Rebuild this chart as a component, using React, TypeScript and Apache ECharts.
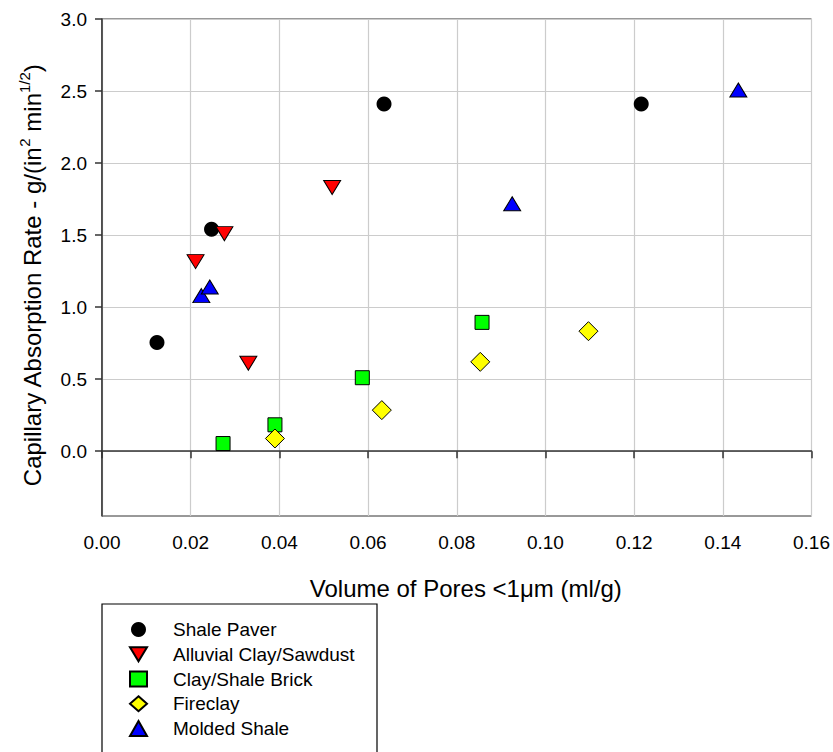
import React, { useEffect, useRef } from "react";
import * as echarts from "echarts";

const seriesNames = [
  "Shale Paver",
  "Alluvial Clay/Sawdust",
  "Clay/Shale Brick",
  "Fireclay",
  "Molded Shale",
];

const shalePaver = [
  [0.0124, 0.755],
  [0.0247, 1.54],
  [0.0636, 2.41],
  [0.1216, 2.41],
];
const alluvialClay = [
  [0.0211, 1.316],
  [0.0276, 1.51],
  [0.0519, 1.83],
  [0.033, 0.61],
];
const clayShaleBrick = [
  [0.0273, 0.053],
  [0.039, 0.183],
  [0.0587, 0.51],
  [0.0857, 0.894],
];
const fireclay = [
  [0.039, 0.088],
  [0.0631, 0.285],
  [0.0853, 0.62],
  [0.1097, 0.833],
];
const moldedShale = [
  [0.0224, 1.08],
  [0.0243, 1.14],
  [0.0925, 1.717],
  [0.1435, 2.507],
];

const yTickValues = [0, 0.5, 1.0, 1.5, 2.0, 2.5, 3.0];

const FONT = "Liberation Sans, Arial, Helvetica, sans-serif";
const DOWN_TRI = "path://M0,0L17,0L8.5,14Z";

export default function App() {
  const ref = useRef<HTMLDivElement>(null);
  useEffect(() => {
    if (!ref.current) return;
    const chart = echarts.init(ref.current, null, { renderer: "svg" });
    const mk = (
      name: string,
      data: number[][],
      symbol: string,
      size: number | number[],
      color: string,
      border: number
    ) => ({
      name,
      type: "scatter",
      data,
      symbol,
      symbolSize: size,
      itemStyle: { color, borderColor: "#000", borderWidth: border, opacity: 1 },
      emphasis: { disabled: true },
    });
    chart.setOption({
      animation: false,
      textStyle: { fontFamily: FONT },
      grid: {
        left: 102,
        right: 21,
        top: 19,
        bottom: 236,
        show: true,
        borderColor: "#333",
        borderWidth: 1,
        backgroundColor: "transparent",
      },
      graphic: [
        {
          type: "rect",
          shape: { x: 102, y: 604, width: 275, height: 200 },
          style: { fill: "none", stroke: "#000", lineWidth: 1.2 },
          silent: true,
        },
      ],
      legend: {
        orient: "vertical",
        left: 129,
        top: 620,
        padding: 0,
        itemGap: 5.75,
        itemWidth: 17,
        itemHeight: 15,
        data: seriesNames,
        textStyle: {
          fontFamily: FONT,
          fontSize: 19,
          color: "#000",
          lineHeight: 17,
          padding: [0, 0, 0, 21],
        },
      },
      xAxis: {
        type: "value",
        min: 0,
        max: 0.16,
        interval: 0.02,
        name: "Volume of Pores <1\u03bcm (ml/g)",
        nameLocation: "middle",
        nameGap: 60,
        nameTextStyle: {
          fontFamily: FONT,
          fontSize: 24,
          color: "#000",
          padding: [0, 0, 0, 18],
        },
        axisLine: { show: true, lineStyle: { color: "#333", width: 1.5 } },
        axisTick: { show: true, length: 7, lineStyle: { color: "#333", width: 1.5 } },
        axisLabel: {
          color: "#000",
          fontSize: 19,
          fontFamily: FONT,
          margin: 17,
          formatter: (v: number) => v.toFixed(2),
        },
        splitLine: { show: true, lineStyle: { color: "#cccccc", width: 1.2 } },
      },
      yAxis: {
        type: "value",
        min: -0.45,
        max: 3.0,
        name: "Capillary Absorption Rate - g/(in{sup|2} min{sup|1/2})",
        nameLocation: "middle",
        nameGap: 55,
        nameTextStyle: {
          fontFamily: FONT,
          fontSize: 24,
          color: "#000",
          lineHeight: 30,
          padding: [0, 16, 0, 0],
          rich: {
            sup: { fontFamily: FONT, fontSize: 15, color: "#000", lineHeight: 15, verticalAlign: "top" },
          },
        },
        axisLine: { show: true, lineStyle: { color: "#333", width: 1.5 } },
        axisTick: {
          show: true,
          length: 7,
          customValues: yTickValues,
          lineStyle: { color: "#333", width: 1.5 },
        },
        axisLabel: {
          color: "#000",
          fontSize: 19,
          fontFamily: FONT,
          margin: 15,
          customValues: yTickValues,
          formatter: (v: number) => v.toFixed(1),
        },
        splitLine: { show: true, lineStyle: { color: "#cccccc", width: 1.2 } },
      },
      series: [
        mk(seriesNames[0], shalePaver, "circle", 15, "#000000", 0),
        mk(seriesNames[1], alluvialClay, DOWN_TRI, [17, 14], "#ff0000", 1),
        mk(seriesNames[2], clayShaleBrick, "rect", 14, "#00ff00", 1),
        mk(seriesNames[3], fireclay, "diamond", 19, "#ffff00", 1),
        mk(seriesNames[4], moldedShale, "triangle", [17, 14], "#0000ff", 1),
      ],
    });
    return () => chart.dispose();
  }, []);
  return <div ref={ref} style={{ width: 833, height: 752, position: "absolute", left: 0, top: 0 }} />;
}
